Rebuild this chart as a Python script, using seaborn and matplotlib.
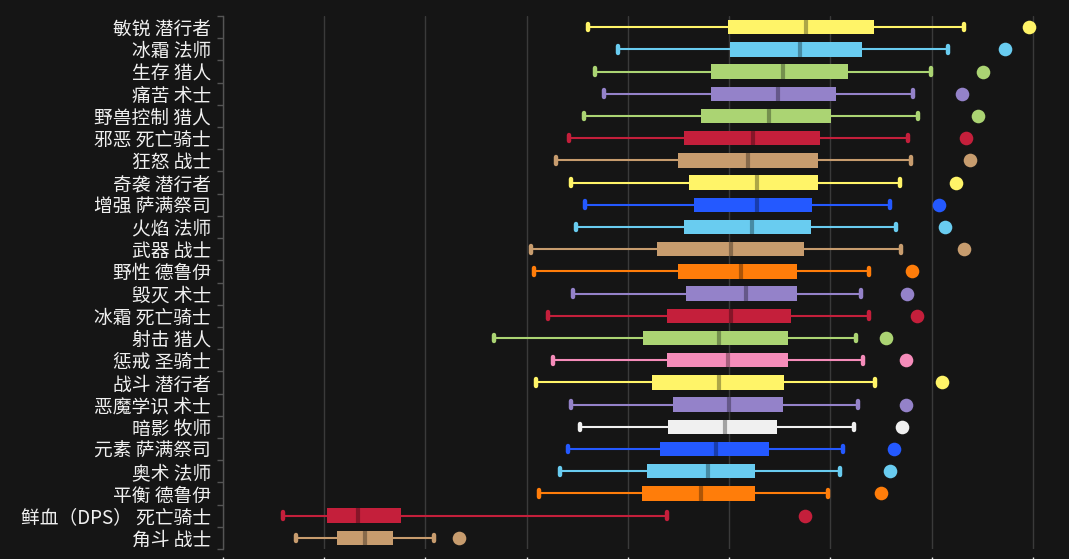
import numpy as np
import pandas as pd
import matplotlib.pyplot as plt
import matplotlib.colors as mcolors
import seaborn as sns

# specs, top to bottom
specs = ["敏锐 潜行者", "冰霜 法师", "生存 猎人", "痛苦 术士", "野兽控制 猎人",
         "邪恶 死亡骑士", "狂怒 战士", "奇袭 潜行者", "增强 萨满祭司", "火焰 法师",
         "武器 战士", "野性 德鲁伊", "毁灭 术士", "冰霜 死亡骑士", "射击 猎人",
         "惩戒 圣骑士", "战斗 潜行者", "恶魔学识 术士", "暗影 牧师", "元素 萨满祭司",
         "奥术 法师", "平衡 德鲁伊", "鲜血（DPS） 死亡骑士", "角斗 战士"]

# box statistics
lows = [36.1, 39.0, 36.7, 37.6, 35.7, 34.2, 32.9, 34.4, 35.8, 34.9, 30.4, 30.7,
        34.6, 32.1, 26.8, 32.6, 30.9, 34.4, 35.3, 34.1, 33.3, 31.2, 5.9, 7.2]
q1s = [49.9, 50.1, 48.2, 48.2, 47.2, 45.5, 44.9, 46.0, 46.5, 45.5, 42.9, 44.9,
       45.7, 43.9, 41.5, 43.9, 42.4, 44.5, 44.0, 43.2, 41.9, 41.4, 10.3, 11.3]
medians = [57.6, 57.0, 55.3, 54.8, 53.9, 52.4, 51.9, 52.8, 52.8, 52.3, 50.2, 51.2,
           51.7, 50.2, 49.0, 49.9, 49.0, 50.0, 49.6, 48.7, 47.9, 47.2, 13.3, 14.0]
q3s = [64.3, 63.1, 61.7, 60.6, 60.1, 59.0, 58.8, 58.8, 58.2, 58.1, 57.4, 56.7,
       56.7, 56.1, 55.8, 55.8, 55.4, 55.3, 54.7, 53.9, 52.6, 52.6, 17.6, 16.8]
highs = [73.2, 71.6, 69.9, 68.2, 68.7, 67.7, 68.0, 66.9, 65.9, 66.5, 67.0, 63.8,
         63.0, 63.8, 62.5, 63.2, 64.4, 62.7, 62.3, 61.2, 61.0, 59.8, 43.9, 20.8]
# the separate dot on the right of each row
dots = [79.6, 77.3, 75.1, 73.0, 74.6, 73.4, 73.8, 72.4, 70.7, 71.3, 73.2, 68.1,
        67.6, 68.6, 65.5, 67.5, 71.0, 67.5, 67.1, 66.3, 65.9, 65.0, 57.5, 23.3]

colors = ["#fff468", "#69ccf0", "#abd473", "#9482c9", "#abd473", "#c41f3b",
          "#c79c6e", "#fff468", "#2459ff", "#69ccf0", "#c79c6e", "#ff7d0a",
          "#9482c9", "#c41f3b", "#abd473", "#f58cba", "#fff468", "#9482c9",
          "#f0f0f0", "#2459ff", "#69ccf0", "#ff7d0a", "#c41f3b", "#c79c6e"]

bg = "#151515"

# five numbers per spec -> quartiles come out exactly
rows = []
for s, lo, a, m, b, hi in zip(specs, lows, q1s, medians, q3s, highs):
    for v in (lo, a, m, b, hi):
        rows.append({"spec": s, "value": v})
df = pd.DataFrame(rows)

sns.set_style("dark")
plt.rcParams['font.family'] = ['Noto Sans CJK SC', 'DejaVu Sans']

fig = plt.figure(figsize=(10.69, 5.59), dpi=100, facecolor=bg)
ax = fig.add_axes([223 / 1069, 1 - 549 / 559, (1048 - 223) / 1069, (549 - 16) / 559])
ax.set_facecolor(bg)

sns.boxplot(data=df, x="value", y="spec", hue="spec", order=specs, hue_order=specs,
            palette=colors, saturation=1, whis=(0, 100), width=0.65,
            showfliers=False, legend=False, ax=ax)

n = len(specs)
for cont in ax.containers:
    if not hasattr(cont, "boxes"):
        continue
    box = cont.boxes[0]
    yc = box.get_path().vertices[:, 1].mean()
    i = int(round(yc))
    c = colors[i]
    dark = tuple(np.array(mcolors.to_rgb(c)) * 0.68)
    for b in cont.boxes:
        b.set_facecolor(c)
        b.set_edgecolor(c)
        b.set_linewidth(0)
    for w in cont.whiskers:
        w.set_color(c)
        w.set_linewidth(1.5)
    for cp in cont.caps:
        cp.set_color(c)
        cp.set_linewidth(3.2)
        cp.set_ydata([i - 0.15, i + 0.15])
    for md in cont.medians:
        md.set_color(dark)
        md.set_linewidth(3)

sns.stripplot(x=dots, y=specs, hue=specs, order=specs, hue_order=specs,
              palette=colors, jitter=False, size=9.8, linewidth=0,
              legend=False, ax=ax)

ax.set_xlim(0, 81.5)
ax.set_ylim(n - 0.5, -0.5)
ax.set_xticks(np.arange(0, 81, 10))
ax.grid(axis="x", color="#3a3a3a", linewidth=1)
ax.grid(axis="y", visible=False)
ax.set_axisbelow(True)
ax.set_xlabel("")
ax.set_ylabel("")

for side in ("top", "right"):
    ax.spines[side].set_visible(False)
ax.spines["bottom"].set_visible(False)
ax.spines["bottom"].set_position(("outward", 6))
ax.spines["left"].set_color("#555555")
ax.spines["left"].set_linewidth(1)

ax.tick_params(axis="x", labelbottom=False, length=8, width=1, color="#dddddd",
               direction="out", bottom=True)
ax.set_yticks(np.arange(-0.5, n, 1), minor=True)
ax.tick_params(axis="y", which="major", length=0, pad=8.5, labelsize=13.5,
               labelcolor="#f0f0f0")
ax.tick_params(axis="y", which="minor", length=4, width=1, color="#555555",
               direction="out", left=True)

fig.savefig("out.png", dpi=100, facecolor=bg)
